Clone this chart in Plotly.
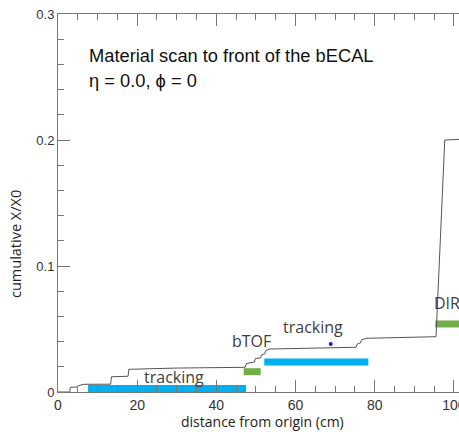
import plotly.graph_objects as go

# cumulative material scan (distance cm, cumulative X/X0)
dist_cm = [0, 3.0, 3.1, 4.9, 5.0, 6.4, 13.3, 13.5, 17.7, 17.9, 30.0, 47.3,
           47.6, 49.6, 49.9, 51.2, 51.4, 52.2, 52.5, 53.5, 75.3, 75.6, 76.4,
           76.7, 77.8, 95.5, 97.7, 101.5]
cum_x0 = [0, 0, 0.0037, 0.0040, 0.0048, 0.0061, 0.0062, 0.0121, 0.0125, 0.0180,
          0.0190, 0.0196, 0.0226, 0.0238, 0.0266, 0.0270, 0.0294, 0.0302, 0.0329,
          0.0341, 0.0355, 0.0381, 0.0389, 0.0413, 0.0426, 0.0439, 0.2000, 0.2005]

# detector regions (start cm, end cm, drawn level)
region_names = ["tracking", "bTOF", "tracking", "DIRC"]
region_start = [7.6, 46.9, 52.1, 95.3]
region_end = [47.5, 51.2, 78.4, 103.0]
region_level = [0.0028, 0.0161, 0.0238, 0.0540]
region_colors = ["#00b0f0", "#70ad47", "#00b0f0", "#70ad47"]
label_x = [29.3, 48.9, 64.5, 94.8]
label_y = [0.0119, 0.0405, 0.0516, 0.0709]
label_anchor = ["center", "center", "center", "left"]

dot_x = [68.9]
dot_y = [0.0381]

title_lines = ["Material scan to front of the bECAL", "η = 0.0, ϕ = 0"]

fig = go.Figure()

for s, e, lv, c in zip(region_start, region_end, region_level, region_colors):
    fig.add_trace(go.Scatter(x=[s, e], y=[lv, lv], mode="lines",
                             line=dict(color=c, width=7), showlegend=False,
                             hoverinfo="skip", cliponaxis=True))

fig.add_trace(go.Scatter(x=dist_cm, y=cum_x0, mode="lines",
                         line=dict(color="#555555", width=1), showlegend=False))

fig.add_trace(go.Scatter(x=dot_x, y=dot_y, mode="markers",
                         marker=dict(color="#1020e0", size=4), showlegend=False))

for name, lx, ly, anc in zip(region_names, label_x, label_y, label_anchor):
    fig.add_annotation(x=lx, y=ly, xref="x", yref="y", text=name, showarrow=False,
                       xanchor=anc, yanchor="middle", borderpad=0,
                       font=dict(family="Open Sans", size=16, color="#404040"))

fig.add_annotation(x=(87 - 58) / 401, y=(392 - 55) / 378, xref="paper", yref="paper",
                   text=title_lines[0], showarrow=False, xanchor="left", yanchor="middle",
                   font=dict(family="Liberation Sans", size=18.3, color="#111111"))
fig.add_annotation(x=(87 - 58) / 401, y=(392 - 80) / 378, xref="paper", yref="paper",
                   text=title_lines[1], showarrow=False, xanchor="left", yanchor="middle",
                   font=dict(family="Liberation Sans", size=18.3, color="#111111"))

fig.add_annotation(x=-43 / 401, y=(392 - 244) / 378, xref="paper", yref="paper",
                   text="cumulative X/X0", showarrow=False, textangle=-90,
                   xanchor="center", yanchor="middle",
                   font=dict(family="Open Sans", size=14.5, color="#222222"))
fig.add_annotation(x=(262 - 58) / 401, y=-29 / 378, xref="paper", yref="paper",
                   text="distance from origin (cm)", showarrow=False,
                   xanchor="center", yanchor="middle", borderpad=0,
                   font=dict(family="Open Sans", size=14, color="#222222"))

fig.update_xaxes(range=[0, 101.3], dtick=20, tick0=0, ticks="inside", ticklen=12,
                 tickcolor="#777777", tickwidth=1, showline=True, linecolor="#777777",
                 linewidth=1, mirror="ticks", showgrid=False, zeroline=False,
                 ticklabeloverflow="allow", automargin=False,
                 tickfont=dict(family="Liberation Sans", size=14, color="#333333"),
                 minor=dict(dtick=5, tick0=0, ticks="inside", ticklen=6,
                            tickcolor="#777777", showgrid=False))
fig.update_yaxes(range=[0, 0.3], dtick=0.1, tick0=0, ticks="inside", ticklen=12,
                 tickcolor="#777777", tickwidth=1, showline=True, linecolor="#777777",
                 linewidth=1, showgrid=False, zeroline=False, automargin=False,
                 tickfont=dict(family="Liberation Sans", size=13, color="#333333"),
                 minor=dict(dtick=0.02, tick0=0, ticks="inside", ticklen=6,
                            tickcolor="#777777", showgrid=False))

fig.update_layout(width=459, height=432, margin=dict(l=58, r=0, t=14, b=40),
                  plot_bgcolor="white", paper_bgcolor="white", showlegend=False)

fig.write_html("out.html")
